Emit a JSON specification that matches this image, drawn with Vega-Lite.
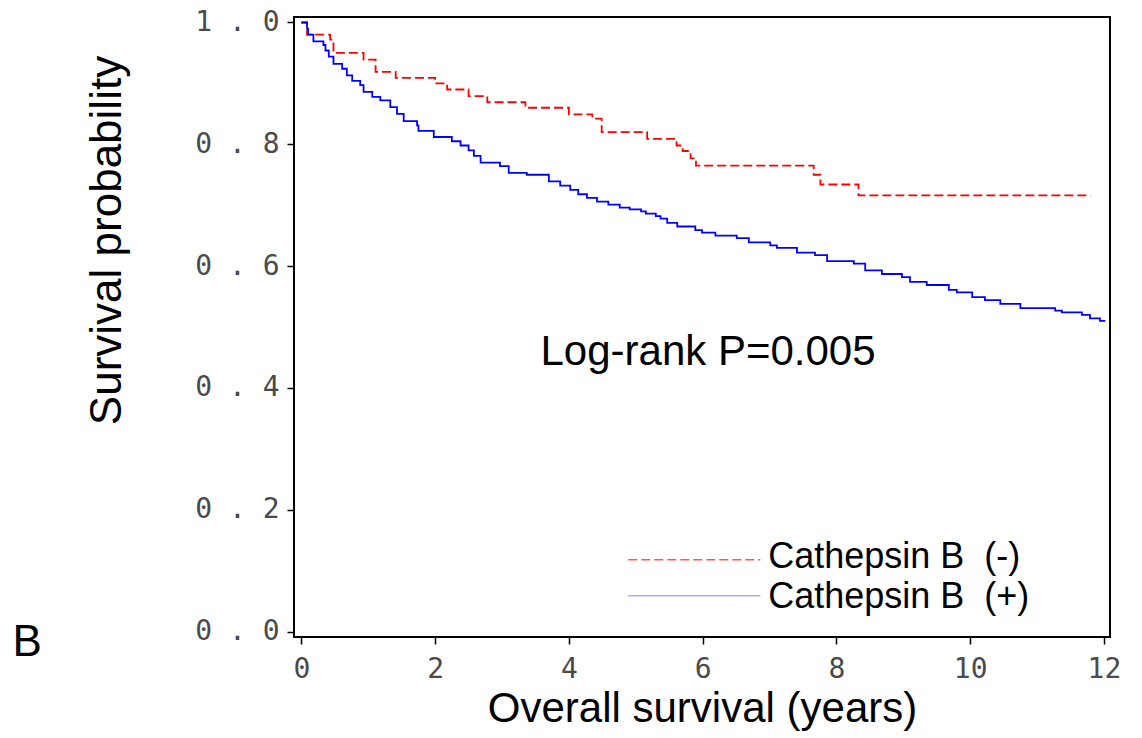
{
  "$schema": "https://vega.github.io/schema/vega-lite/v6.json",
  "width": 816,
  "height": 620,
  "autosize": "none",
  "padding": {"left": 294, "top": 17, "right": 32, "bottom": 101},
  "background": "white",
  "config": {
    "view": {"stroke": "black", "strokeWidth": 2},
    "axis": {"grid": false, "domain": false, "tickColor": "black", "tickWidth": 1.5, "tickSize": 7,
             "labelFont": "DejaVu Sans Mono", "labelFontSize": 28, "labelColor": "#4a4a4a",
             "titleFont": "Liberation Sans", "titleFontSize": 42, "titleFontWeight": "normal", "titleColor": "black"}
  },
  "datasets": {
    "km": [
      {"g": "Cathepsin B (-)", "t": 0, "s": 1.0},
      {"g": "Cathepsin B (-)", "t": 0.085, "s": 0.98},
      {"g": "Cathepsin B (-)", "t": 0.43, "s": 0.972},
      {"g": "Cathepsin B (-)", "t": 0.48, "s": 0.95},
      {"g": "Cathepsin B (-)", "t": 0.93, "s": 0.939},
      {"g": "Cathepsin B (-)", "t": 1.11, "s": 0.919},
      {"g": "Cathepsin B (-)", "t": 1.41, "s": 0.909},
      {"g": "Cathepsin B (-)", "t": 2.0, "s": 0.9},
      {"g": "Cathepsin B (-)", "t": 2.18, "s": 0.89},
      {"g": "Cathepsin B (-)", "t": 2.5, "s": 0.879},
      {"g": "Cathepsin B (-)", "t": 2.78, "s": 0.869},
      {"g": "Cathepsin B (-)", "t": 3.35, "s": 0.86},
      {"g": "Cathepsin B (-)", "t": 4.0, "s": 0.849},
      {"g": "Cathepsin B (-)", "t": 4.35, "s": 0.842},
      {"g": "Cathepsin B (-)", "t": 4.49, "s": 0.82},
      {"g": "Cathepsin B (-)", "t": 5.17, "s": 0.809},
      {"g": "Cathepsin B (-)", "t": 5.61, "s": 0.798},
      {"g": "Cathepsin B (-)", "t": 5.7, "s": 0.789},
      {"g": "Cathepsin B (-)", "t": 5.82, "s": 0.777},
      {"g": "Cathepsin B (-)", "t": 5.9, "s": 0.765},
      {"g": "Cathepsin B (-)", "t": 7.66, "s": 0.75},
      {"g": "Cathepsin B (-)", "t": 7.76, "s": 0.734},
      {"g": "Cathepsin B (-)", "t": 8.33, "s": 0.716},
      {"g": "Cathepsin B (-)", "t": 11.8, "s": 0.716},
      {"g": "Cathepsin B (+)", "t": 0, "s": 1.0},
      {"g": "Cathepsin B (+)", "t": 0.085, "s": 0.99},
      {"g": "Cathepsin B (+)", "t": 0.1, "s": 0.98},
      {"g": "Cathepsin B (+)", "t": 0.18, "s": 0.969},
      {"g": "Cathepsin B (+)", "t": 0.33, "s": 0.963},
      {"g": "Cathepsin B (+)", "t": 0.36, "s": 0.954},
      {"g": "Cathepsin B (+)", "t": 0.41, "s": 0.944},
      {"g": "Cathepsin B (+)", "t": 0.48, "s": 0.932},
      {"g": "Cathepsin B (+)", "t": 0.61, "s": 0.924},
      {"g": "Cathepsin B (+)", "t": 0.68, "s": 0.913},
      {"g": "Cathepsin B (+)", "t": 0.76, "s": 0.904},
      {"g": "Cathepsin B (+)", "t": 0.88, "s": 0.897},
      {"g": "Cathepsin B (+)", "t": 0.93, "s": 0.886},
      {"g": "Cathepsin B (+)", "t": 1.06, "s": 0.878},
      {"g": "Cathepsin B (+)", "t": 1.18, "s": 0.872},
      {"g": "Cathepsin B (+)", "t": 1.33, "s": 0.861},
      {"g": "Cathepsin B (+)", "t": 1.43, "s": 0.85},
      {"g": "Cathepsin B (+)", "t": 1.53, "s": 0.838},
      {"g": "Cathepsin B (+)", "t": 1.73, "s": 0.831},
      {"g": "Cathepsin B (+)", "t": 1.75, "s": 0.822},
      {"g": "Cathepsin B (+)", "t": 1.98, "s": 0.812},
      {"g": "Cathepsin B (+)", "t": 2.25, "s": 0.805},
      {"g": "Cathepsin B (+)", "t": 2.38, "s": 0.798},
      {"g": "Cathepsin B (+)", "t": 2.5, "s": 0.79},
      {"g": "Cathepsin B (+)", "t": 2.58, "s": 0.781},
      {"g": "Cathepsin B (+)", "t": 2.68, "s": 0.77},
      {"g": "Cathepsin B (+)", "t": 2.97, "s": 0.764},
      {"g": "Cathepsin B (+)", "t": 3.1, "s": 0.753},
      {"g": "Cathepsin B (+)", "t": 3.37, "s": 0.75},
      {"g": "Cathepsin B (+)", "t": 3.7, "s": 0.739},
      {"g": "Cathepsin B (+)", "t": 3.87, "s": 0.732},
      {"g": "Cathepsin B (+)", "t": 4.02, "s": 0.725},
      {"g": "Cathepsin B (+)", "t": 4.14, "s": 0.718},
      {"g": "Cathepsin B (+)", "t": 4.27, "s": 0.712},
      {"g": "Cathepsin B (+)", "t": 4.42, "s": 0.706},
      {"g": "Cathepsin B (+)", "t": 4.59, "s": 0.701},
      {"g": "Cathepsin B (+)", "t": 4.76, "s": 0.696},
      {"g": "Cathepsin B (+)", "t": 4.91, "s": 0.693},
      {"g": "Cathepsin B (+)", "t": 5.08, "s": 0.69},
      {"g": "Cathepsin B (+)", "t": 5.15, "s": 0.686},
      {"g": "Cathepsin B (+)", "t": 5.3, "s": 0.682},
      {"g": "Cathepsin B (+)", "t": 5.37, "s": 0.678},
      {"g": "Cathepsin B (+)", "t": 5.47, "s": 0.671},
      {"g": "Cathepsin B (+)", "t": 5.62, "s": 0.665},
      {"g": "Cathepsin B (+)", "t": 5.89, "s": 0.659},
      {"g": "Cathepsin B (+)", "t": 5.99, "s": 0.655},
      {"g": "Cathepsin B (+)", "t": 6.19, "s": 0.65},
      {"g": "Cathepsin B (+)", "t": 6.51, "s": 0.646},
      {"g": "Cathepsin B (+)", "t": 6.69, "s": 0.639},
      {"g": "Cathepsin B (+)", "t": 7.01, "s": 0.634},
      {"g": "Cathepsin B (+)", "t": 7.11, "s": 0.63},
      {"g": "Cathepsin B (+)", "t": 7.41, "s": 0.622},
      {"g": "Cathepsin B (+)", "t": 7.68, "s": 0.618},
      {"g": "Cathepsin B (+)", "t": 7.86, "s": 0.608},
      {"g": "Cathepsin B (+)", "t": 8.26, "s": 0.604},
      {"g": "Cathepsin B (+)", "t": 8.43, "s": 0.593},
      {"g": "Cathepsin B (+)", "t": 8.68, "s": 0.587},
      {"g": "Cathepsin B (+)", "t": 8.98, "s": 0.582},
      {"g": "Cathepsin B (+)", "t": 9.1, "s": 0.574},
      {"g": "Cathepsin B (+)", "t": 9.35, "s": 0.569},
      {"g": "Cathepsin B (+)", "t": 9.68, "s": 0.561},
      {"g": "Cathepsin B (+)", "t": 9.8, "s": 0.557},
      {"g": "Cathepsin B (+)", "t": 10.03, "s": 0.549},
      {"g": "Cathepsin B (+)", "t": 10.22, "s": 0.544},
      {"g": "Cathepsin B (+)", "t": 10.45, "s": 0.538},
      {"g": "Cathepsin B (+)", "t": 10.75, "s": 0.531},
      {"g": "Cathepsin B (+)", "t": 11.27, "s": 0.527},
      {"g": "Cathepsin B (+)", "t": 11.37, "s": 0.524},
      {"g": "Cathepsin B (+)", "t": 11.67, "s": 0.52},
      {"g": "Cathepsin B (+)", "t": 11.79, "s": 0.514},
      {"g": "Cathepsin B (+)", "t": 11.94, "s": 0.51},
      {"g": "Cathepsin B (+)", "t": 12.02, "s": 0.51}
    ]
  },
  "layer": [
    {
      "data": {"name": "km"},
      "mark": {"type": "line", "interpolate": "step-after", "strokeWidth": 1.8},
      "encoding": {
        "x": {"field": "t", "type": "quantitative",
              "scale": {"domain": [-0.11, 12.09], "nice": false, "zero": false},
              "axis": {"values": [0, 2, 4, 6, 8, 10, 12], "format": "d", "title": "Overall survival (years)",
                       "labelPadding": 11, "titleBaseline": "alphabetic", "titleY": 84}},
        "y": {"field": "s", "type": "quantitative",
              "scale": {"domain": [-0.009, 1.009], "nice": false, "zero": false},
              "axis": {"values": [0, 0.2, 0.4, 0.6, 0.8, 1.0], "title": "Survival probability",
                       "labelExpr": "replace(format(datum.value, '.1f'), '.', ' . ')",
                       "labelPadding": 8, "titleFontSize": 44, "titleBaseline": "alphabetic", "titleX": -174, "titleY": 223}},
        "color": {"field": "g", "type": "nominal",
                  "scale": {"domain": ["Cathepsin B (-)", "Cathepsin B (+)"], "range": ["#ff0000", "#0000ff"]},
                  "legend": null},
        "strokeDash": {"field": "g", "type": "nominal",
                       "scale": {"domain": ["Cathepsin B (-)", "Cathepsin B (+)"], "range": [[9, 4], [1, 0]]},
                       "legend": null}
      }
    },
    {
      "data": {"values": [{}]},
      "mark": {"type": "rule", "color": "#ff0000", "strokeWidth": 1, "strokeDash": [9, 4]},
      "encoding": {
        "x": {"datum": 4.888, "type": "quantitative"},
        "x2": {"datum": 6.861},
        "y": {"datum": 0.1177, "type": "quantitative"}
      }
    },
    {
      "data": {"values": [{}]},
      "mark": {"type": "rule", "color": "#0000ff", "strokeWidth": 1, "opacity": 0.5},
      "encoding": {
        "x": {"datum": 4.888, "type": "quantitative"},
        "x2": {"datum": 6.861},
        "y": {"datum": 0.0586, "type": "quantitative"}
      }
    },
    {
      "data": {"values": [{}]},
      "mark": {"type": "text", "text": "Cathepsin B\u00a0 (-)", "font": "Liberation Sans", "fontSize": 36, "align": "left", "baseline": "alphabetic", "color": "black"},
      "encoding": {
        "x": {"datum": 6.98, "type": "quantitative"},
        "y": {"datum": 0.1046, "type": "quantitative"}
      }
    },
    {
      "data": {"values": [{}]},
      "mark": {"type": "text", "text": "Cathepsin B\u00a0 (+)", "font": "Liberation Sans", "fontSize": 36, "align": "left", "baseline": "alphabetic", "color": "black"},
      "encoding": {
        "x": {"datum": 6.98, "type": "quantitative"},
        "y": {"datum": 0.0389, "type": "quantitative"}
      }
    },
    {
      "data": {"values": [{}]},
      "mark": {"type": "text", "text": "Log-rank P=0.005", "font": "Liberation Sans", "fontSize": 42, "align": "center", "baseline": "alphabetic", "color": "black"},
      "encoding": {
        "x": {"datum": 6.08, "type": "quantitative"},
        "y": {"datum": 0.437, "type": "quantitative"}
      }
    },
    {
      "data": {"values": [{}]},
      "mark": {"type": "text", "text": "B", "font": "Liberation Sans", "fontSize": 44, "align": "center", "baseline": "alphabetic", "color": "black"},
      "encoding": {
        "x": {"datum": -4.1, "type": "quantitative"},
        "y": {"datum": -0.04, "type": "quantitative"}
      }
    }
  ]
}
